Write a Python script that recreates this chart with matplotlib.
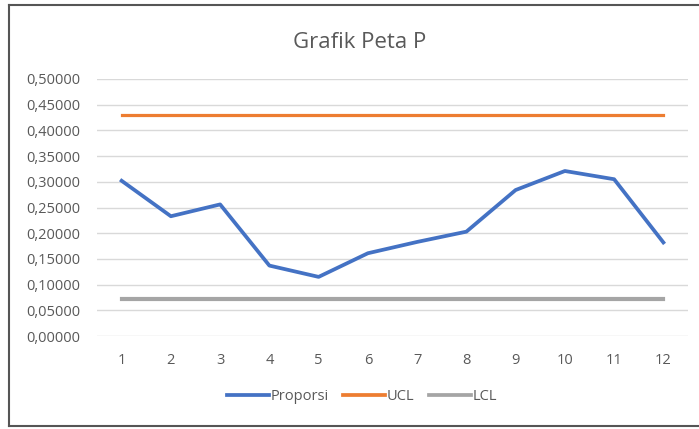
import matplotlib
matplotlib.use("Agg")
import matplotlib.pyplot as plt
from matplotlib.lines import Line2D

# data
samples = list(range(1, 13))
proporsi = [0.302, 0.233, 0.256, 0.137, 0.115, 0.161, 0.183, 0.203, 0.284, 0.321, 0.305, 0.182]
ucl = [0.430] * 12
lcl = [0.072] * 12
yticks = [0.0, 0.05, 0.10, 0.15, 0.20, 0.25, 0.30, 0.35, 0.40, 0.45, 0.50]

plt.rcParams["font.family"] = ["Open Sans", "DejaVu Sans"]

fig = plt.figure(figsize=(6.99, 4.29), dpi=100)
fig.patch.set_facecolor("white")
ax = fig.add_axes([97 / 699, 1 - 336 / 429, 591 / 699, 257 / 429])

ax.plot(samples, proporsi, color="#4472C4", lw=2.7, label="Proporsi", solid_joinstyle="round")
ax.plot(samples, ucl, color="#ED7D31", lw=2.3, label="UCL")
ax.plot(samples, lcl, color="#A5A5A5", lw=3.0, label="LCL")

ax.set_xlim(0.5, 12.5)
ax.set_ylim(0, 0.5)
ax.set_xticks(samples)
ax.set_yticks(yticks)
ax.set_yticklabels([f"{v:.5f}".replace(".", ",") for v in yticks])
ax.tick_params(length=0, colors="#595959", labelsize=10.5)
ax.tick_params(axis="x", pad=12)
ax.tick_params(axis="y", pad=12)
ax.grid(axis="y", color="#D9D9D9", lw=1)
ax.set_axisbelow(True)
for s in ax.spines.values():
    s.set_visible(False)

fig.text(360 / 699, 1 - 42 / 429, "Grafik Peta P", ha="center", va="center",
         fontsize=16, color="#595959")

handles = [Line2D([], [], color=c, lw=2.7) for c in ("#4472C4", "#ED7D31", "#A5A5A5")]
fig.legend(handles, ["Proporsi", "UCL", "LCL"], loc="center", ncol=3,
           bbox_to_anchor=(362 / 699, 1 - 397 / 429), frameon=False,
           fontsize=10.5, labelcolor="#595959", handlelength=2.9,
           handletextpad=0.1, columnspacing=1.0)

# outer frame of the chart area (right edge is cropped in the reference)
frame_kw = dict(color="#555555", lw=1.5, transform=fig.transFigure)
fig.add_artist(Line2D([9 / 699, 1], [1 - 4.5 / 429] * 2, **frame_kw))
fig.add_artist(Line2D([9 / 699] * 2, [1 - 4.5 / 429, 1 - 425.5 / 429], **frame_kw))
fig.add_artist(Line2D([9 / 699, 1], [1 - 425.5 / 429] * 2, **frame_kw))

fig.savefig("out.png", dpi=100)
